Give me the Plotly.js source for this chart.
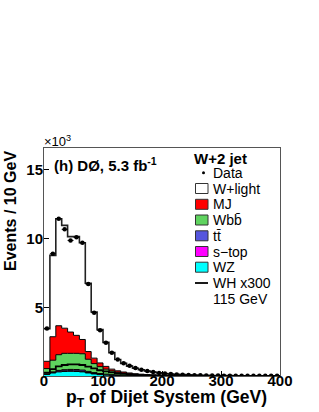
<!DOCTYPE html>
<html>
<head>
<meta charset="utf-8">
<script src="https://cdn.plot.ly/plotly-3.0.1.min.js"></script>
<style>html,body{margin:0;padding:0;background:#fff;}#chart{width:319px;height:412px;}</style>
</head>
<body>
<div id="chart"></div>
<script>
// bin edges in GeV (10 GeV bins, 0-400)
var binEdges = [0,10,20,30,40,50,60,70,80,90,100,110,120,130,140,150,160,170,180,190,200,
                210,220,230,240,250,260,270,280,290,300,310,320,330,340,350,360,370,380,390,400];
// Events / 10 GeV, in units of 10^3
var wz    = [0.12,0.22,0.30,0.33,0.34,0.33,0.30,0.22,0.15,0.10,0.07,0.05,0.04,0.03,0.02,0.015,0.012,0.01,0.008,0.006,
             0.005,0.004,0.003,0.003,0.002,0.002,0.002,0.001,0.001,0.001,0.001,0.001,0,0,0,0,0,0,0,0];
var stop  = [0.02,0.04,0.05,0.05,0.05,0.05,0.04,0.035,0.03,0.02,0.015,0.01,0.008,0.006,0.005,0.004,0.003,0.002,0.002,0.001,
             0.001,0.001,0,0,0,0,0,0,0,0,0,0,0,0,0,0,0,0,0,0];
var ttbar = [0.02,0.04,0.06,0.08,0.09,0.09,0.09,0.08,0.07,0.06,0.05,0.04,0.03,0.025,0.02,0.015,0.012,0.01,0.008,0.006,
             0.005,0.004,0.003,0.002,0.002,0.001,0.001,0.001,0,0,0,0,0,0,0,0,0,0,0,0];
var wbb   = [0.38,0.85,1.14,1.19,1.17,1.18,1.19,0.885,0.65,0.50,0.365,0.27,0.20,0.15,0.115,0.09,0.07,0.055,0.045,0.035,
             0.028,0.022,0.018,0.014,0.011,0.009,0.007,0.006,0.005,0.004,0.003,0.003,0.002,0.002,0.002,0.001,0.001,0.001,0.001,0.001];
var mj    = [0.53,1.71,2.11,1.83,1.55,1.31,1.04,0.56,0.40,0.27,0.20,0.13,0.10,0.08,0.06,0.045,0.035,0.028,0.022,0.017,
             0.013,0.01,0.008,0.007,0.006,0.005,0.004,0.003,0.003,0.002,0.002,0.002,0.001,0.001,0.001,0.001,0.001,0.001,0.001,0.001];
var wlight= [2.38,5.92,7.79,7.49,6.95,7.19,7.04,4.97,3.36,2.43,1.75,1.20,0.82,0.63,0.50,0.395,0.32,0.26,0.21,0.168,
             0.132,0.11,0.09,0.075,0.06,0.05,0.045,0.038,0.032,0.027,0.023,0.02,0.017,0.015,0.013,0.011,0.01,0.009,0.008,0.007];
var whx300= [0.25,0.50,0.70,0.80,0.85,0.85,0.80,0.68,0.55,0.42,0.33,0.26,0.20,0.15,0.11,0.08,0.06,0.045,0.035,0.025,
             0.02,0.015,0.012,0.01,0.008,0.006,0.005,0.004,0.003,0.002,0.002,0.002,0.001,0.001,0.001,0.001,0.001,0,0,0];
var dataPts=[3.45,8.9,11.45,10.68,9.87,10.1,9.7,6.7,4.61,3.33,2.42,1.70,1.20,0.93,0.75,0.58,0.46,0.36,0.29,0.22,
             0.18,0.14,0.11,0.09,0.07,0.06,0.05,0.04,0.035,0.03,0.025,0.02,0.02,0.015,0.015,0.01,0.01,0.01,0.01,0.01];
var yTicks = [5,10,15];
var xTicks = [0,100,200,300,400];

var layers = [
  {name:'WZ', vals:wz, color:'#00ffff'},
  {name:'s-top', vals:stop, color:'#ff00ff'},
  {name:'ttbar', vals:ttbar, color:'#5555dd'},
  {name:'Wbb', vals:wbb, color:'#5fd35f'},
  {name:'MJ', vals:mj, color:'#ff0000'},
  {name:'W+light', vals:wlight, color:'#ffffff'}
];

var traces = [];
var cum = binEdges.slice(0,-1).map(function(){return 0;});
layers.forEach(function(L, i){
  cum = cum.map(function(c, j){ return c + L.vals[j]; });
  var y = cum.slice(); y.push(cum[cum.length-1]);
  traces.push({
    x: binEdges, y: y, type:'scatter', mode:'lines',
    line:{shape:'hv', color: i===5 ? '#222' : '#000', width: i===5 ? 1.6 : 1},
    fill: i===0 ? 'tozeroy' : 'tonexty', fillcolor: L.color,
    hoverinfo:'skip', showlegend:false
  });
});
var whY = whx300.slice(); whY.push(whx300[whx300.length-1]);
traces.push({x: binEdges, y: whY, type:'scatter', mode:'lines',
  line:{shape:'hv', color:'#000', width:1.8}, showlegend:false, hoverinfo:'skip'});
var centers = binEdges.slice(0,-1).map(function(e){return e+5;});
traces.push({x: centers, y: dataPts, type:'scatter', mode:'markers',
  marker:{symbol:'circle', size:4.5, color:'#000'},
  error_x:{type:'constant', value:5, width:0, thickness:1, color:'#000'},
  showlegend:false, hoverinfo:'skip'});

// pixel -> paper helpers (plot area: x 44..280, y 148..376)
function PX(px){ return (px-44)/236; }
function PY(py){ return (376-py)/228; }

var shapes = [];
var annotations = [];
var F = 'Liberation Sans, Arial, Helvetica, sans-serif';
function txt(t, x, y, size, opts){
  var a = {text:t, x:PX(x), y:PY(y), xref:'paper', yref:'paper', showarrow:false,
    xanchor:'left', yanchor:'middle', font:{family:F, size:size, color:'#000'}};
  for (var k in (opts||{})) a[k]=opts[k];
  annotations.push(a);
}
// legend
txt('<b>W+2 jet</b>', 192, 158, 15);
var legItems = [
  {label:'Data', y:172.7, kind:'dot'},
  {label:'W+light', y:188.5, color:'#ffffff'},
  {label:'MJ', y:204.3, color:'#ff0000'},
  {label:'Wb\u0062\u0304', y:220.0, color:'#5fd35f'},
  {label:'t\u0074\u0304', y:235.8, color:'#5555dd'},
  {label:'s\u2212top', y:251.5, color:'#ff00ff'},
  {label:'WZ', y:267.2, color:'#00ffff'},
  {label:'WH x300', y:283.0, kind:'line'}
];
legItems.forEach(function(it){
  if (it.kind==='dot') {
    shapes.push({type:'circle', xref:'paper', yref:'paper', x0:PX(202), x1:PX(205), y0:PY(it.y+1.5), y1:PY(it.y-1.5),
      fillcolor:'#000', line:{width:0}});
  } else if (it.kind==='line') {
    shapes.push({type:'line', xref:'paper', yref:'paper', x0:PX(195), x1:PX(208), y0:PY(it.y), y1:PY(it.y),
      line:{color:'#000', width:1.8}});
  } else {
    shapes.push({type:'rect', xref:'paper', yref:'paper', x0:PX(195.5), x1:PX(208), y0:PY(it.y+5), y1:PY(it.y-5),
      fillcolor:it.color, line:{color:'#333', width:1}});
  }
  txt(it.label, 210.5, it.y, 14);
});
txt('115 GeV', 210.5, 298.7, 14);
// in-plot label
txt('<b>(h) DØ, 5.3 fb<sup>-1</sup></b>', 52, 164, 15);
// exponent
txt('\u00d710<sup>3</sup>', 42, 141, 13);
// axis titles
annotations.push({text:'<b>Events / 10 GeV</b>', textangle:-90, x:PX(10), y:PY(149), xref:'paper', yref:'paper',
  showarrow:false, xanchor:'center', yanchor:'top', font:{family:F, size:16, color:'#000'}});
annotations.push({text:'<b>p<sub>T</sub> of Dijet System (GeV)</b>', x:PX(269), y:PY(398), xref:'paper', yref:'paper',
  showarrow:false, xanchor:'right', yanchor:'middle', font:{family:F, size:17.5, color:'#000'}});

var layout = {
  width:319, height:412,
  margin:{l:44, r:39, t:148, b:36, pad:0},
  paper_bgcolor:'#fff', plot_bgcolor:'#fff',
  showlegend:false,
  xaxis:{range:[0,400], tickvals:xTicks, ticktext:xTicks.map(String), ticks:'inside', ticklen:5, tickcolor:'#000',
    ticklabelstandoff:-9,
    showgrid:false, zeroline:false, showline:true, linecolor:'#555', linewidth:1, mirror:true,
    tickfont:{family:F, size:15, color:'#000', weight:'bold'}},
  yaxis:{range:[0,16.6], tickvals:yTicks, ticktext:yTicks.map(String), ticks:'inside', ticklen:5, tickcolor:'#000',
    ticklabelstandoff:-3,
    showgrid:false, zeroline:false, showline:true, linecolor:'#555', linewidth:1, mirror:true,
    tickfont:{family:F, size:15, color:'#000', weight:'bold'}},
  shapes:shapes, annotations:annotations
};
Plotly.newPlot('chart', traces, layout, {staticPlot:true, displayModeBar:false});
</script>
</body>
</html>
